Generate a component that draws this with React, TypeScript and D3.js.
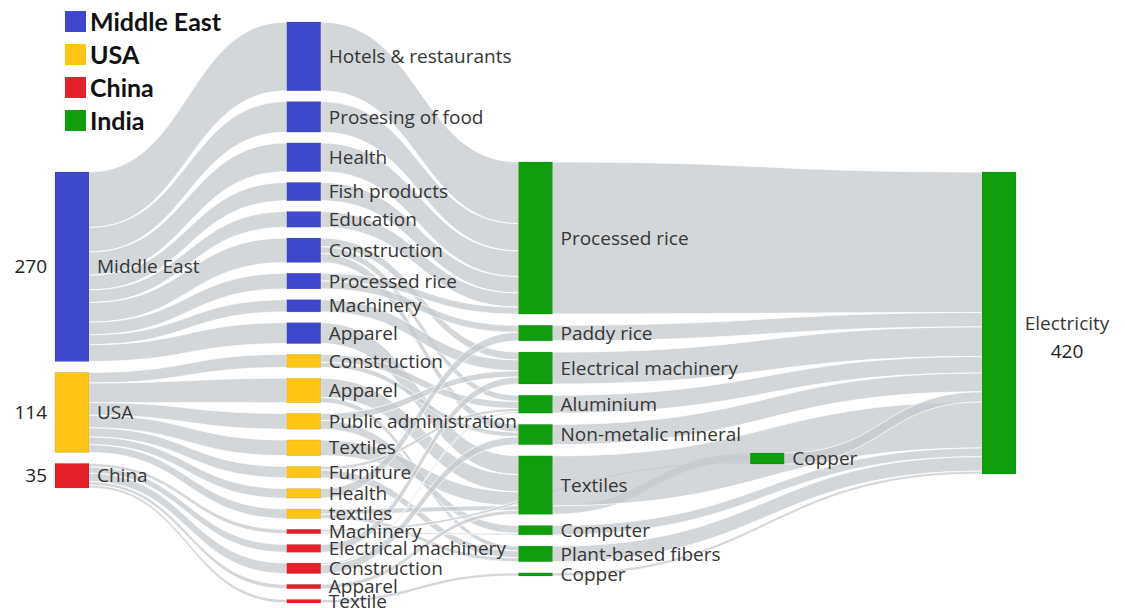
import React from "react";
import * as d3 from "d3";

// ---------- DATA ----------
const legendItems = ["Middle East", "USA", "China", "India"];
const regions = ["Middle East", "USA", "China"];
const regionTotals = [270, 114, 35];
const sinkName = "Electricity";
const sinkTotal = 420;

const meSectors = ["Hotels & restaurants", "Prosesing of food", "Health", "Fish products", "Education", "Construction", "Processed rice", "Machinery", "Apparel"];
const usaSectors = ["Construction", "Apparel", "Public administration", "Textiles", "Furniture", "Health", "textiles"];
const chinaSectors = ["Machinery", "Electrical machinery", "Construction", "Apparel", "Textile"];

const indiaSectors = ["Processed rice", "Paddy rice", "Electrical machinery", "Aluminium", "Non-metalic mineral", "Textiles", "Computer", "Plant-based fibers", "Copper"];
const hubSectors = ["Copper"];

// [region, foreign sector, Indian sector (or "hub:Copper"), value]
const supplyFlows: [string, string, string, number][] = [
  ["Middle East", "Hotels & restaurants", "Processed rice", 79],
  ["Middle East", "Prosesing of food", "Processed rice", 35],
  ["Middle East", "Health", "Processed rice", 33],
  ["Middle East", "Fish products", "Processed rice", 21],
  ["Middle East", "Education", "Processed rice", 18],
  ["Middle East", "Construction", "Electrical machinery", 10],
  ["Middle East", "Construction", "Aluminium", 8],
  ["Middle East", "Construction", "Non-metalic mineral", 10],
  ["Middle East", "Processed rice", "Processed rice", 9],
  ["Middle East", "Processed rice", "Paddy rice", 9],
  ["Middle East", "Machinery", "Electrical machinery", 14],
  ["Middle East", "Apparel", "Textiles", 24],
  ["USA", "Construction", "Aluminium", 9],
  ["USA", "Construction", "Non-metalic mineral", 6],
  ["USA", "Apparel", "Textiles", 22],
  ["USA", "Apparel", "Plant-based fibers", 6],
  ["USA", "Public administration", "Electrical machinery", 8],
  ["USA", "Public administration", "Computer", 10],
  ["USA", "Textiles", "Textiles", 18],
  ["USA", "Furniture", "Aluminium", 4],
  ["USA", "Furniture", "Plant-based fibers", 9],
  ["USA", "Health", "Paddy rice", 11],
  ["USA", "textiles", "Textiles", 6],
  ["USA", "textiles", "Plant-based fibers", 5],
  ["China", "Machinery", "hub:Copper", 3],
  ["China", "Machinery", "Computer", 2],
  ["China", "Electrical machinery", "Electrical machinery", 9],
  ["China", "Construction", "Non-metalic mineral", 10],
  ["China", "Construction", "Aluminium", 2],
  ["China", "Apparel", "Textiles", 5],
  ["China", "Textile", "Copper", 4],
];

// Indian sector -> intermediate Copper
const indiaToHub: [string, number][] = [["Textiles", 11]];

// ---------- STYLE / LAYOUT ----------
const W = 1125;
const H = 608;
const regionColors: Record<string, string> = {
  "Middle East": "#3f48cc",
  USA: "#ffc414",
  China: "#e6202a",
  India: "#0e9e0e",
};
const linkFill = "#c6cacd";
const nodeW = 34;
const colX = d3.scaleLinear().domain([0, 4]).range([55, 982]);
const colLayout = [
  { top: 172, bottom: 488, pad: 11 },
  { top: 22, bottom: 603, pad: 10.8 },
  { top: 162, bottom: 576, pad: 11.2 },
  { top: 453, bottom: 464, pad: 0 },
  { top: 172, bottom: 474, pad: 0 },
];
const labelFont = "'Open Sans', 'Noto Sans', sans-serif";
const labelSize = 19;

type Node = {
  id: string;
  name: string;
  col: number;
  color: string;
  inV: number;
  outV: number;
  value: number;
  y0: number;
  y1: number;
  src: Link[];
  tgt: Link[];
};
type Link = { source: Node; target: Node; value: number; sy0: number; sy1: number; ty0: number; ty1: number };

function buildGraph() {
  const nodes: Node[] = [];
  const byId = new Map<string, Node>();
  const add = (id: string, name: string, col: number, color: string) => {
    const n: Node = { id, name, col, color, inV: 0, outV: 0, value: 0, y0: 0, y1: 0, src: [], tgt: [] };
    nodes.push(n);
    byId.set(id, n);
  };
  regions.forEach((r) => add("R:" + r, r, 0, regionColors[r]));
  const sectorLists: [string, string[]][] = [["Middle East", meSectors], ["USA", usaSectors], ["China", chinaSectors]];
  sectorLists.forEach(([r, list]) => list.forEach((s) => add("S:" + r + ":" + s, s, 1, regionColors[r])));
  indiaSectors.forEach((s) => add("I:" + s, s, 2, regionColors.India));
  hubSectors.forEach((s) => add("hub:" + s, s, 3, regionColors.India));
  add("E", sinkName, 4, regionColors.India);

  const links: Link[] = [];
  const link = (a: string, b: string, v: number) => {
    const s = byId.get(a)!;
    const t = byId.get(b)!;
    const l: Link = { source: s, target: t, value: v, sy0: 0, sy1: 0, ty0: 0, ty1: 0 };
    links.push(l);
    s.src.push(l);
    t.tgt.push(l);
    s.outV += v;
    t.inV += v;
  };
  sectorLists.forEach(([r, list]) =>
    list.forEach((s) => {
      const v = d3.sum(supplyFlows.filter((f) => f[0] === r && f[1] === s), (f) => f[3]);
      link("R:" + r, "S:" + r + ":" + s, v);
    })
  );
  supplyFlows.forEach(([r, s, t, v]) => link("S:" + r + ":" + s, t.startsWith("hub:") ? t : "I:" + t, v));
  indiaToHub.forEach(([s, v]) => link("I:" + s, "hub:Copper", v));
  indiaSectors.forEach((s) => {
    const n = byId.get("I:" + s)!;
    const v = n.inV - n.outV;
    if (v > 0) link("I:" + s, "E", v);
  });
  hubSectors.forEach((s) => {
    const n = byId.get("hub:" + s)!;
    link("hub:" + s, "E", n.inV);
  });
  nodes.forEach((n) => (n.value = Math.max(n.inV, n.outV)));

  const ky: number[] = [];
  colLayout.forEach((c, ci) => {
    const col = nodes.filter((n) => n.col === ci);
    const total = d3.sum(col, (n) => n.value);
    const k = (c.bottom - c.top - c.pad * (col.length - 1)) / total;
    ky[ci] = k;
    let y = c.top;
    col.forEach((n) => {
      n.y0 = y;
      n.y1 = y + n.value * k;
      y = n.y1 + c.pad;
    });
  });
  const mid = (n: Node) => (n.y0 + n.y1) / 2;
  nodes.forEach((n) => {
    let y = n.y0;
    n.src
      .slice()
      .sort((a, b) => mid(a.target) - mid(b.target))
      .forEach((l) => {
        l.sy0 = y;
        y += l.value * ky[n.col];
        l.sy1 = y;
      });
    y = n.y0;
    n.tgt
      .slice()
      .sort((a, b) => mid(a.source) - mid(b.source))
      .forEach((l) => {
        l.ty0 = y;
        y += l.value * ky[n.col];
        l.ty1 = y;
      });
  });
  return { nodes, links };
}

function ribbon(l: Link) {
  const x0 = colX(l.source.col) + nodeW;
  const x1 = colX(l.target.col);
  const xm = (x0 + x1) / 2;
  const p = d3.path();
  p.moveTo(x0, l.sy0);
  p.bezierCurveTo(xm, l.sy0, xm, l.ty0, x1, l.ty0);
  p.lineTo(x1, l.ty1);
  p.bezierCurveTo(xm, l.ty1, xm, l.sy1, x0, l.sy1);
  p.closePath();
  return p.toString();
}

export default function App() {
  const { nodes, links } = buildGraph();
  const regionIdx = (n: Node) => regions.indexOf(n.name);
  return (
    <svg width={W} height={H} style={{ position: "absolute", left: 0, top: 0, background: "#fff" }}>
      <g>
        {links.map((l, i) => (
          <path key={i} d={ribbon(l)} fill={linkFill} fillOpacity={0.75} stroke="#fff" strokeWidth={0.9} strokeOpacity={0.85} />
        ))}
      </g>
      <g>
        {nodes.map((n) => (
          <rect key={n.id} x={colX(n.col)} y={n.y0} width={nodeW} height={Math.max(2, n.y1 - n.y0)} fill={n.color} stroke="rgba(0,0,0,0.12)" strokeWidth={0.8} />
        ))}
      </g>
      <g fontFamily={labelFont} fontSize={labelSize} fill="#363636">
        {nodes
          .filter((n) => n.col < 4)
          .map((n) => (
            <text key={n.id} x={colX(n.col) + nodeW + 8} y={(n.y0 + n.y1) / 2} dy="0.35em">
              {n.name}
            </text>
          ))}
        {nodes
          .filter((n) => n.col === 0)
          .map((n) => (
            <text key={"v" + n.id} x={colX(0) - 8} y={(n.y0 + n.y1) / 2} dy="0.35em" textAnchor="end" fill="#222">
              {regionTotals[regionIdx(n)]}
            </text>
          ))}
        {nodes
          .filter((n) => n.col === 4)
          .map((n) => (
            <g key={n.id}>
              <text x={colX(4) + nodeW + 51} y={(n.y0 + n.y1) / 2} dy="0.35em" textAnchor="middle">
                {n.name}
              </text>
              <text x={colX(4) + nodeW + 51} y={(n.y0 + n.y1) / 2 + 28} dy="0.35em" textAnchor="middle" fill="#222">
                {sinkTotal}
              </text>
            </g>
          ))}
      </g>
      <g fontFamily="Lato, 'Open Sans', sans-serif" fontWeight={700} fontSize={25} fill="#111">
        {legendItems.map((name, i) => (
          <g key={name} transform={`translate(65, ${11 + i * 33})`}>
            <rect width={21} height={21} fill={regionColors[name]} />
            <text x={25} y={10.5} dy="0.36em">
              {name}
            </text>
          </g>
        ))}
      </g>
    </svg>
  );
}
